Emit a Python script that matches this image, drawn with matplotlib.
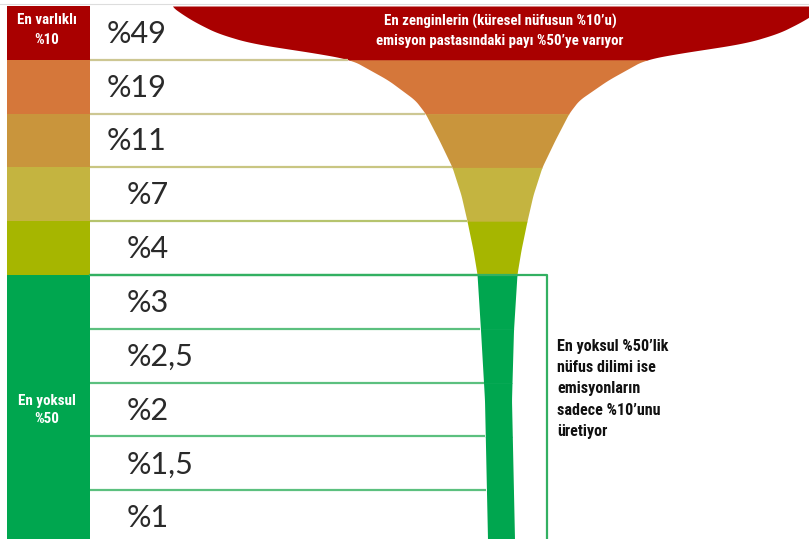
import numpy as np
import matplotlib.pyplot as plt
from matplotlib import font_manager
from matplotlib.patches import Rectangle

# emission share of each population tenth (rich to poor)
labels = ['%49', '%19', '%11', '%7', '%4', '%3', '%2,5', '%2', '%1,5', '%1']
values = [49, 19, 11, 7, 4, 3, 2.5, 2, 1.5, 1]
row_colors = ['#a90000', '#d5773a', '#c9953c', '#c4b440', '#a6b600',
              '#00a64f', '#00a64f', '#00a64f', '#00a64f', '#00a64f']
sep_colors = ['#cdc793', '#cdc793', '#c9c682', '#b6c46e', '#33b062',
              '#5cc07f', '#5cc07f', '#5cc07f', '#5cc07f']

# glass outline: (y, centre, half width)
glass_y = [6, 14, 22, 33, 43, 50, 55, 60, 80, 100, 113, 140, 167, 195,
           221, 250, 274, 330, 400, 539]
glass_c = [498, 498, 498, 498, 498, 498, 498, 498, 498, 497, 497, 497, 497,
           497, 497, 497, 497, 497, 498, 501]
glass_w = [327, 316, 303, 281, 248, 203, 170, 146, 110, 82, 72, 58, 45, 36,
           30, 24, 20, 16.5, 13.5, 13.5]

rich_label = 'En varlıklı\n%10'
poor_label = 'En yoksul\n%50'
top_note = 'En zenginlerin (küresel nüfusun %10’u)\nemisyon pastasındaki payı %50’ye varıyor'
side_note = 'En yoksul %50’lik\nnüfus dilimi ise\nemisyonların\nsadece %10’unu\nüretiyor'

W, H = 809, 539
row_top, row_h = 6, 53.8
bounds = row_top + row_h * np.arange(len(values) + 1)

# pick a narrow face if one is around
have = {f.name for f in font_manager.fontManager.ttflist}
narrow = 'Roboto'
for name in ['Liberation Sans Narrow', 'DejaVu Sans Condensed',
             'Roboto Condensed', 'Open Sans Condensed', 'Noto Sans Condensed']:
    if name in have:
        narrow = name
        break
scale = 1.0 if narrow != 'Roboto' else 0.9

fig = plt.figure(figsize=(W / 100, H / 100), dpi=100)
ax = fig.add_axes([0, 0, 1, 1])
ax.set_xlim(0, W)
ax.set_ylim(H, 0)
ax.axis('off')

ax.plot([0, W], [4, 4], color='#dddddd', lw=0.8)


def smooth(vals, y):
    # smoothed outline so the rim curves instead of bending at the points
    fine = np.arange(glass_y[0] - 10, H + 10, 0.5)
    w = np.interp(fine, glass_y, vals)
    k = np.ones(17) / 17
    w = np.convolve(np.pad(w, 8, mode='edge'), k, mode='valid')
    return np.interp(y, fine, w)


for i, (lab, v, col) in enumerate(zip(labels, values, row_colors)):
    y0, y1 = bounds[i], bounds[i + 1]
    ax.add_patch(Rectangle((7, y0), 83, y1 - y0, color=col, lw=0))
    yr = np.linspace(y0, y1 + 0.6, 80)
    hr = smooth(glass_w, yr)
    cr = smooth(glass_c, yr)
    ax.fill_betweenx(yr, cr - hr, cr + hr, color=col, lw=0)
    tx = 107 if v >= 10 else 127
    ax.text(tx, (y0 + y1) / 2 + 1, lab, fontsize=22, family='Lato',
            color='#2a2a2a', va='center', ha='left')

for b, col in zip(bounds[1:-1], sep_colors):
    xe = smooth(glass_c, b) - smooth(glass_w, b)
    ax.plot([90, xe], [b, b], color=col, lw=1.6, solid_capstyle='butt')

# box around the poorest half
ax.plot([90, 547, 547], [bounds[5], bounds[5], H + 5], color='#33b062', lw=1.6)

ax.text(47, 30, rich_label, color='white', fontsize=10.8 * scale,
        fontweight='bold', family=narrow, ha='center', va='center',
        linespacing=1.55)
ax.text(47, 410, poor_label, color='white', fontsize=10.8 * scale,
        fontweight='bold', family=narrow, ha='center', va='center',
        linespacing=1.45)
ax.text(500, 31, top_note, color='white', fontsize=10.7 * scale,
        fontweight='bold', family=narrow, ha='center', va='center',
        linespacing=1.5)
ax.text(557, 389, side_note, color='#111111', fontsize=11.6 * scale,
        fontweight='bold', family=narrow, ha='left', va='center',
        linespacing=1.52)

fig.savefig('out.png', dpi=100)
